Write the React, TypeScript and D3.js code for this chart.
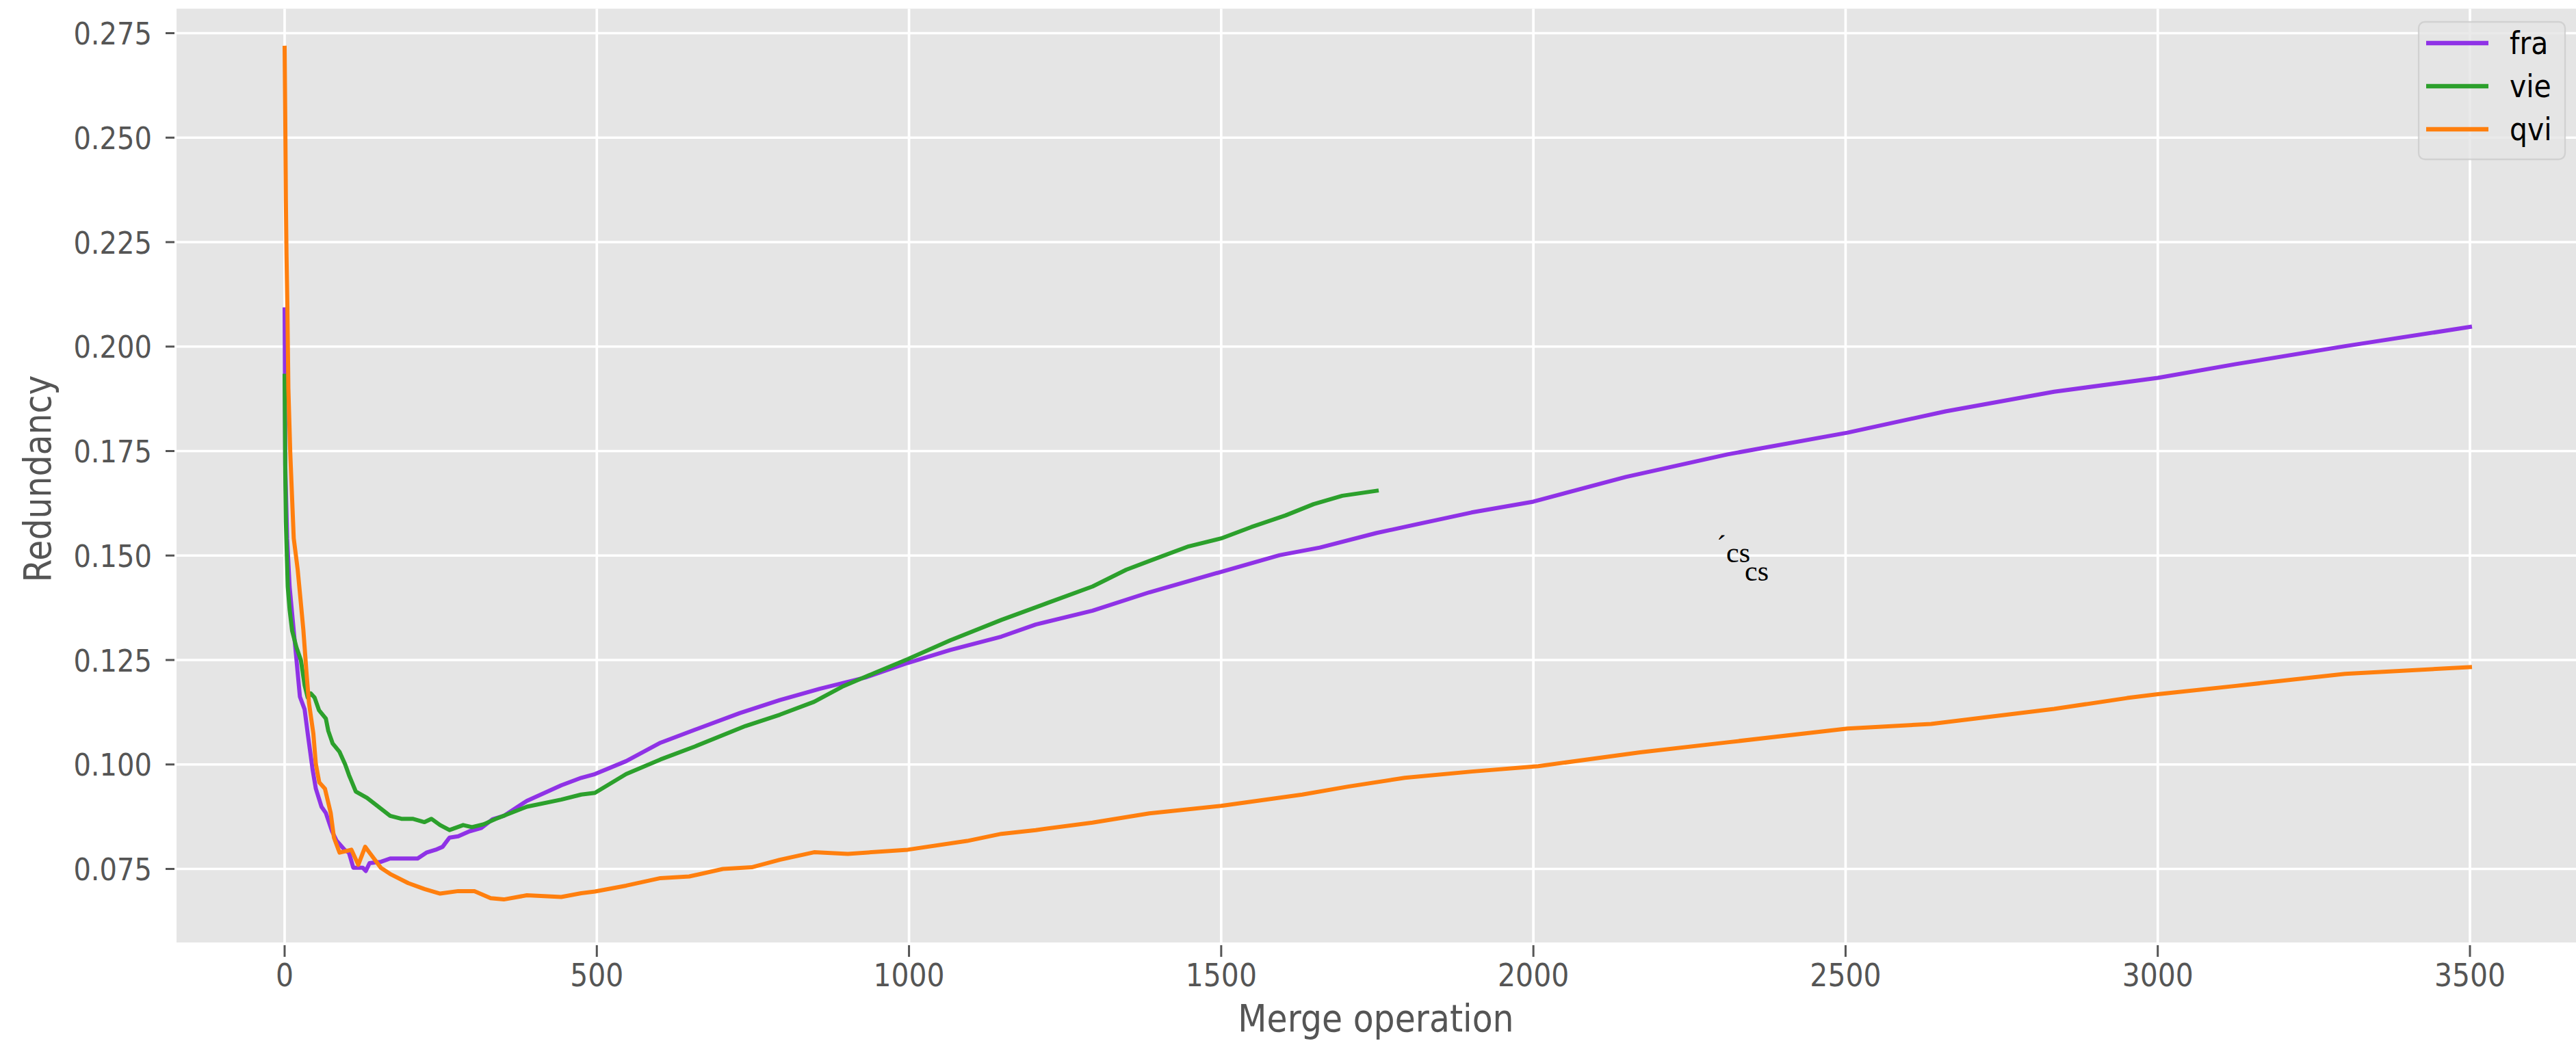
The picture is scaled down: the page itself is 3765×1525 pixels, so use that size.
import React from "react";
import * as d3 from "d3";

// ---- data ----
const seriesNames = ["fra", "vie", "qvi"];
const seriesColors = ["#8f32e6", "#2ca02c", "#ff7f0e"];

const fraX = [0, 0.5, 1, 4, 8, 13.5, 19, 24.5, 32, 37, 45, 50, 59, 66, 76, 83, 96, 103, 110, 125, 130, 136, 154, 169, 198, 213, 227, 242, 253, 264, 278, 296, 315, 333, 351, 388, 443, 475, 497, 547, 602, 657, 729, 793, 857, 930, 998, 1066, 1148, 1203, 1294, 1385, 1500, 1594, 1658, 1749, 1845, 1901, 2000, 2148, 2311, 2503, 2660, 2834, 3000, 3125, 3300, 3500];
const fraY = [0.2089, 0.1936, 0.1717, 0.1541, 0.1425, 0.1337, 0.125, 0.1162, 0.1132, 0.1074, 0.0986, 0.0942, 0.0899, 0.0884, 0.084, 0.0818, 0.0796, 0.0789, 0.0753, 0.0753, 0.0745, 0.0764, 0.0767, 0.0775, 0.0775, 0.0775, 0.0789, 0.0796, 0.0803, 0.0825, 0.0828, 0.084, 0.0848, 0.0869, 0.0877, 0.0913, 0.095, 0.0968, 0.0977, 0.1008, 0.1052, 0.1083, 0.1123, 0.1154, 0.1181, 0.1208, 0.1243, 0.1274, 0.1306, 0.1335, 0.1368, 0.1412, 0.1461, 0.1501, 0.1519, 0.1554, 0.1585, 0.1603, 0.1629, 0.1688, 0.1742, 0.1794, 0.1845, 0.1892, 0.1925, 0.1958, 0.2001, 0.2047];

const vieX = [0, 1, 2, 5, 8, 12, 19, 26, 32, 37, 42, 48, 55, 66, 70, 77, 88, 97, 103, 114, 132, 150, 169, 187, 205, 224, 235, 249, 264, 286, 300, 319, 337, 388, 443, 475, 497, 547, 602, 657, 738, 793, 848, 893, 948, 998, 1066, 1148, 1221, 1294, 1348, 1394, 1448, 1500, 1548, 1603, 1648, 1694, 1749];
const vieY = [0.193, 0.17, 0.158, 0.1425, 0.137, 0.132, 0.128, 0.125, 0.119, 0.116, 0.117, 0.116, 0.113, 0.111, 0.108, 0.105, 0.103, 0.1, 0.0975, 0.0935, 0.092, 0.0899, 0.0877, 0.087, 0.087, 0.0862, 0.087, 0.0855, 0.0843, 0.0855, 0.085, 0.0857, 0.0869, 0.0899, 0.0916, 0.0928, 0.0932, 0.0977, 0.1012, 0.1043, 0.1092, 0.1119, 0.115, 0.1186, 0.1221, 0.1252, 0.1297, 0.1346, 0.1386, 0.1426, 0.1466, 0.1492, 0.1522, 0.1541, 0.1568, 0.1596, 0.1623, 0.1643, 0.1655];

const qviX = [0, 1, 2, 3, 4.4, 6, 9, 14.6, 20.8, 24.5, 30, 35, 39, 46, 50, 55.5, 64.6, 73.8, 79, 88, 107, 118, 129, 136, 154, 169, 198, 224, 249, 278, 304, 330, 351, 388, 443, 475, 497, 547, 602, 648, 702, 748, 793, 848, 902, 998, 1093, 1148, 1203, 1294, 1385, 1500, 1630, 1703, 1794, 1901, 2008, 2171, 2311, 2503, 2637, 2834, 2951, 3000, 3125, 3300, 3500];
const qviY = [0.2715, 0.255, 0.235, 0.222, 0.2097, 0.19, 0.1746, 0.1541, 0.1468, 0.141, 0.1322, 0.122, 0.1147, 0.1074, 0.1001, 0.0957, 0.0942, 0.0884, 0.0825, 0.0789, 0.0796, 0.076, 0.0803, 0.0789, 0.0753, 0.0738, 0.0716, 0.0702, 0.0691, 0.0697, 0.0697, 0.068, 0.0677, 0.0687, 0.0683, 0.0692, 0.0696, 0.071, 0.0728, 0.0732, 0.075, 0.0754, 0.0772, 0.079, 0.0786, 0.0796, 0.0817, 0.0834, 0.0843, 0.0861, 0.0883, 0.0901, 0.0928, 0.0947, 0.0968, 0.0983, 0.0996, 0.1029, 0.1053, 0.1086, 0.1097, 0.1133, 0.1159, 0.1168, 0.1188, 0.1217, 0.1233];

const xTicks = [0, 500, 1000, 1500, 2000, 2500, 3000, 3500];
const yTicks = [0.075, 0.1, 0.125, 0.15, 0.175, 0.2, 0.225, 0.25, 0.275];
const xLabel = "Merge operation";
const yLabel = "Redundancy";

export default function App() {
  const W = 3765;
  const H = 1525;
  const x = d3.scaleLinear().domain([0, 3500]).range([416, 3610]);
  const y = d3.scaleLinear().domain([0.075, 0.275]).range([1270.5, 48.5]);
  const plotLeft = 258;
  const plotTop = 12.7;
  const plotRight = W;
  const plotBottom = 1378;
  const sx = 0.89;

  const series = [
    { xs: fraX, ys: fraY },
    { xs: vieX, ys: vieY },
    { xs: qviX, ys: qviY },
  ];
  const line = d3
    .line<[number, number]>()
    .x((d) => x(d[0]))
    .y((d) => y(d[1]));
  const fmt = d3.format(".3f");
  const font = "'DejaVu Sans', sans-serif";

  const legendX = 3535;
  const legendY = 32;
  const legendRows = [63, 126, 189];

  return (
    <div style={{ position: "absolute", left: 0, top: 0 }}>
      <svg width={W} height={H} style={{ display: "block", background: "#ffffff" }}>
        <rect x={plotLeft} y={plotTop} width={plotRight - plotLeft} height={plotBottom - plotTop} fill="#e5e5e5" />
        {/* grid */}
        {xTicks.map((t) => (
          <line key={"gx" + t} x1={x(t)} x2={x(t)} y1={plotTop} y2={plotBottom} stroke="#ffffff" strokeWidth={3.7} />
        ))}
        {yTicks.map((t) => (
          <line key={"gy" + t} x1={plotLeft} x2={plotRight} y1={y(t)} y2={y(t)} stroke="#ffffff" strokeWidth={3.7} />
        ))}
        {/* ticks */}
        {xTicks.map((t) => (
          <g key={"tx" + t}>
            <line x1={x(t)} x2={x(t)} y1={1382} y2={1399} stroke="#555555" strokeWidth={3} />
            <text
              transform={`translate(${x(t)},1442) scale(${sx},1)`}
              textAnchor="middle"
              fontFamily={font}
              fontSize={46}
              fill="#555555"
            >
              {String(t)}
            </text>
          </g>
        ))}
        {yTicks.map((t) => (
          <g key={"ty" + t}>
            <line x1={242} x2={255} y1={y(t)} y2={y(t)} stroke="#555555" strokeWidth={3} />
            <text
              transform={`translate(222,${y(t) + 16.5}) scale(${sx},1)`}
              textAnchor="end"
              fontFamily={font}
              fontSize={45}
              fill="#555555"
            >
              {fmt(t)}
            </text>
          </g>
        ))}
        {/* axis labels */}
        <text
          transform={`translate(2011,1508) scale(${sx},1)`}
          textAnchor="middle"
          fontFamily={font}
          fontSize={55}
          fill="#555555"
        >
          {xLabel}
        </text>
        <text
          transform={`translate(74,700) rotate(-90) scale(${sx},1)`}
          textAnchor="middle"
          fontFamily={font}
          fontSize={55}
          fill="#555555"
        >
          {yLabel}
        </text>
        {/* lines */}
        {series.map((s, i) => (
          <path
            key={"s" + i}
            d={line(s.xs.map((v, j) => [v, s.ys[j]] as [number, number])) || ""}
            fill="none"
            stroke={seriesColors[i]}
            strokeWidth={6}
            strokeLinejoin="round"
            strokeLinecap="square"
          />
        ))}
        {/* stray text */}
        <text x={2509} y={812} fontFamily="'Liberation Serif', serif" fontSize={42} fill="#000">´</text>
        <text x={2523} y={822} fontFamily="'Liberation Serif', serif" fontSize={42} fill="#000">cs</text>
        <text x={2550} y={849} fontFamily="'Liberation Serif', serif" fontSize={42} fill="#000">cs</text>
        {/* legend */}
        <rect
          x={legendX}
          y={legendY}
          width={214}
          height={201}
          rx={9}
          ry={9}
          fill="#e5e5e5"
          fillOpacity={0.8}
          stroke="#cccccc"
          strokeOpacity={0.8}
          strokeWidth={2.3}
        />
        {seriesNames.map((n, i) => (
          <g key={"lg" + n}>
            <line x1={3546} x2={3637} y1={legendRows[i]} y2={legendRows[i]} stroke={seriesColors[i]} strokeWidth={6.5} />
            <text
              transform={`translate(3668,${legendRows[i] + 16}) scale(${sx},1)`}
              fontFamily={font}
              fontSize={46}
              fill="#000000"
            >
              {n}
            </text>
          </g>
        ))}
      </svg>
    </div>
  );
}
